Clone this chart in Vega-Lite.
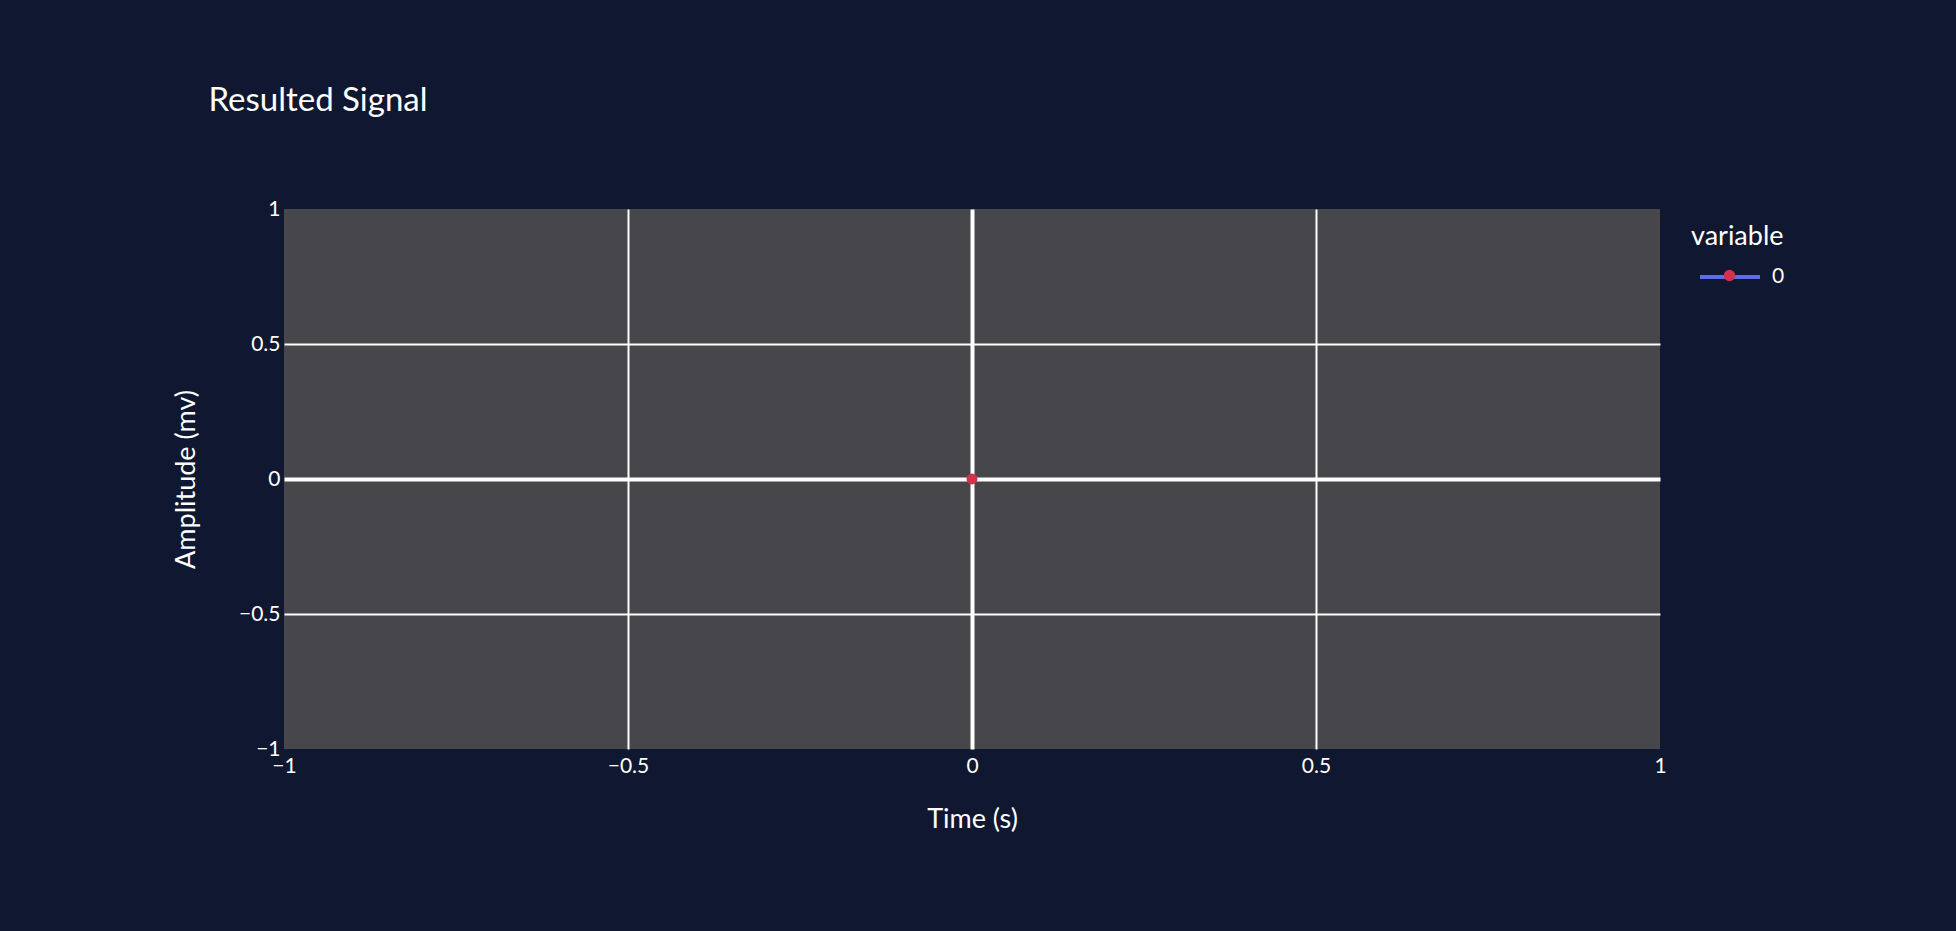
{
  "$schema": "https://vega.github.io/schema/vega-lite/v6.json",
  "width": 1376,
  "height": 540,
  "autosize": {"type": "none"},
  "padding": {"left": 284, "top": 209, "right": 296, "bottom": 182},
  "background": "#0f1731",
  "config": {
    "view": {"fill": "#47474b", "stroke": null},
    "font": "Lato",
    "axis": {
      "domain": false,
      "ticks": false,
      "labelFlush": false,
      "labelFontSize": 21,
      "labelColor": "#ffffff",
      "labelFont": "Lato",
      "titleFontSize": 27,
      "titleFontWeight": "normal",
      "titleColor": "#ffffff",
      "titleFont": "Lato",
      "gridColor": "#ffffff",
      "gridWidth": {"condition": {"test": "datum.value === 0", "value": 4}, "value": 2},
      "gridOpacity": {"condition": {"test": "abs(datum.value) === 1", "value": 0}, "value": 1}
    },
    "legend": {
      "titleFontSize": 27,
      "titleFontWeight": "normal",
      "titleColor": "#ffffff",
      "titleFont": "Lato",
      "labelFontSize": 21,
      "labelColor": "#ffffff",
      "labelFont": "Lato"
    }
  },
  "title": {
    "text": "Resulted Signal",
    "anchor": "start",
    "dx": 36,
    "offset": 80,
    "fontSize": 33,
    "fontWeight": "normal",
    "color": "#ffffff",
    "font": "Lato"
  },
  "data": {"values": [{"time": 0, "amplitude": 0, "variable": "0"}]},
  "layer": [
    {
      "mark": {"type": "line", "strokeWidth": 4},
      "encoding": {
        "x": {
          "field": "time", "type": "quantitative",
          "scale": {"domain": [-1, 1], "nice": false, "zero": false},
          "axis": {"title": "Time (s)", "values": [-1, -0.5, 0, 0.5, 1], "format": "~g", "labelPadding": 6, "titlePadding": 30}
        },
        "y": {
          "field": "amplitude", "type": "quantitative",
          "scale": {"domain": [-1, 1], "nice": false, "zero": false},
          "axis": {"title": "Amplitude (mv)", "values": [-1, -0.5, 0, 0.5, 1], "format": "~g", "labelPadding": 4, "titlePadding": 38}
        },
        "color": {
          "field": "variable", "type": "nominal",
          "scale": {"range": ["#5b6ee6"]},
          "legend": {
            "title": "variable",
            "orient": "none",
            "legendX": 1407,
            "legendY": 15,
            "symbolType": "stroke",
            "symbolSize": 3600,
            "symbolStrokeWidth": 4,
            "symbolOffset": 7,
            "labelOffset": 10,
            "titlePadding": -6,
            "titleFontSize": 27,
            "titleFontWeight": "normal",
            "titleColor": "#ffffff"
          }
        }
      }
    },
    {
      "mark": {"type": "point", "filled": true, "size": 120, "opacity": 1},
      "encoding": {
        "x": {"field": "time", "type": "quantitative"},
        "y": {"field": "amplitude", "type": "quantitative"},
        "fill": {
          "field": "variable", "type": "nominal",
          "scale": {"range": ["#d1344a"]},
          "legend": {
            "title": null,
            "orient": "none",
            "legendX": 1435,
            "legendY": 56,
            "symbolType": "circle",
            "symbolSize": 130,
            "symbolOpacity": 1,
            "labelExpr": "''"
          }
        }
      }
    }
  ],
  "resolve": {"legend": {"color": "independent", "fill": "independent"}}
}
